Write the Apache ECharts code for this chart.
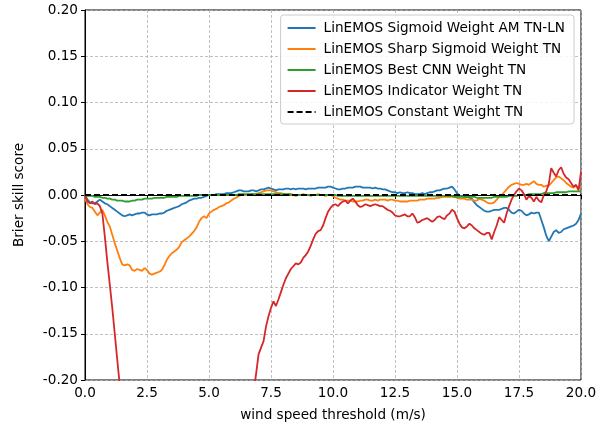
<!DOCTYPE html>
<html>
<head>
<meta charset="utf-8">
<script src="https://cdn.jsdelivr.net/npm/echarts@6/dist/echarts.min.js"></script>
<style>
html,body{margin:0;padding:0;background:#fff;}
#chart{width:605px;height:427px;}
</style>
</head>
<body>
<div id="chart"></div>
<script>
// wind speed thresholds (m/s), 0.0 .. 20.0 step 0.1
const thresholds = Array.from({length: 201}, (_, i) => +(i * 0.1).toFixed(1));

const seriesNames = [
  "LinEMOS Sigmoid Weight AM TN-LN",
  "LinEMOS Sharp Sigmoid Weight TN",
  "LinEMOS Best CNN Weight TN",
  "LinEMOS Indicator Weight TN",
  "LinEMOS Constant Weight TN"
];

const sigmoidAM = [
  0.000,-0.005,-0.008,-0.009,-0.009,-0.007,-0.005,-0.007,-0.009,-0.010,
  -0.012,-0.014,-0.016,-0.018,-0.020,-0.022,-0.023,-0.022,-0.021,-0.022,
  -0.021,-0.020,-0.020,-0.019,-0.019,-0.021,-0.022,-0.021,-0.021,-0.021,
  -0.020,-0.020,-0.019,-0.017,-0.016,-0.015,-0.014,-0.013,-0.012,-0.010,
  -0.009,-0.008,-0.006,-0.005,-0.004,-0.004,-0.003,-0.003,-0.002,-0.001,
  0.000,0.000,0.000,0.001,0.001,0.001,0.001,0.002,0.002,0.002,
  0.003,0.004,0.005,0.005,0.004,0.004,0.004,0.005,0.005,0.004,
  0.005,0.006,0.006,0.007,0.008,0.007,0.006,0.005,0.006,0.006,
  0.006,0.007,0.007,0.006,0.007,0.006,0.007,0.007,0.007,0.006,
  0.007,0.007,0.007,0.007,0.008,0.008,0.008,0.008,0.009,0.009,
  0.008,0.007,0.006,0.006,0.007,0.007,0.008,0.008,0.008,0.009,
  0.009,0.009,0.008,0.008,0.008,0.008,0.007,0.008,0.007,0.007,
  0.006,0.006,0.005,0.004,0.003,0.003,0.002,0.003,0.002,0.002,
  0.003,0.002,0.002,0.001,0.001,0.001,0.002,0.001,0.002,0.003,
  0.003,0.004,0.005,0.005,0.006,0.007,0.007,0.008,0.009,0.006,
  0.002,-0.001,-0.001,-0.002,-0.002,-0.003,-0.004,-0.008,-0.011,-0.013,
  -0.015,-0.017,-0.018,-0.018,-0.017,-0.016,-0.016,-0.016,-0.015,-0.014,
  -0.014,-0.016,-0.019,-0.020,-0.018,-0.016,-0.017,-0.020,-0.022,-0.021,
  -0.019,-0.020,-0.019,-0.019,-0.027,-0.035,-0.044,-0.050,-0.045,-0.040,
  -0.038,-0.041,-0.040,-0.037,-0.036,-0.035,-0.034,-0.033,-0.031,-0.027,
  -0.020
];

const sharpSigmoid = [
  -0.004,-0.010,-0.013,-0.014,-0.018,-0.022,-0.019,-0.016,-0.022,-0.029,
  -0.034,-0.043,-0.052,-0.060,-0.068,-0.075,-0.076,-0.075,-0.076,-0.081,
  -0.082,-0.080,-0.081,-0.082,-0.079,-0.081,-0.085,-0.086,-0.085,-0.084,
  -0.083,-0.081,-0.076,-0.070,-0.066,-0.063,-0.061,-0.059,-0.056,-0.051,
  -0.049,-0.047,-0.045,-0.042,-0.039,-0.035,-0.029,-0.025,-0.023,-0.025,
  -0.020,-0.018,-0.016,-0.015,-0.013,-0.012,-0.011,-0.009,-0.008,-0.006,
  -0.004,-0.003,-0.001,0.000,0.000,0.000,0.000,0.001,0.001,0.001,
  0.002,0.003,0.004,0.005,0.005,0.005,0.004,0.003,0.002,0.002,
  0.001,0.000,0.001,0.000,0.000,-0.001,0.000,0.000,0.001,0.000,
  0.000,-0.001,0.000,0.000,0.001,0.000,0.000,-0.001,0.000,0.000,
  -0.001,-0.003,-0.004,-0.005,-0.005,-0.006,-0.006,-0.006,-0.007,-0.007,
  -0.007,-0.006,-0.006,-0.005,-0.005,-0.006,-0.006,-0.005,-0.006,-0.005,
  -0.005,-0.005,-0.006,-0.005,-0.005,-0.006,-0.006,-0.007,-0.007,-0.007,
  -0.007,-0.006,-0.006,-0.006,-0.006,-0.005,-0.005,-0.005,-0.004,-0.004,
  -0.004,-0.004,-0.003,-0.003,-0.002,-0.002,-0.002,-0.002,-0.002,-0.002,
  -0.003,-0.004,-0.004,-0.004,-0.005,-0.005,-0.005,-0.006,-0.006,-0.004,
  -0.005,-0.006,-0.008,-0.009,-0.009,-0.008,-0.005,-0.002,0.000,0.003,
  0.006,0.009,0.011,0.012,0.013,0.012,0.011,0.011,0.012,0.011,
  0.013,0.015,0.012,0.011,0.011,0.009,0.010,0.010,0.013,0.016,
  0.019,0.020,0.018,0.016,0.013,0.011,0.009,0.008,0.010,0.008,
  0.007
];

const bestCNN = [
  0.000,-0.001,-0.001,-0.001,-0.002,-0.002,-0.002,-0.003,-0.003,-0.004,
  -0.004,-0.005,-0.005,-0.006,-0.006,-0.006,-0.007,-0.007,-0.007,-0.006,
  -0.006,-0.005,-0.005,-0.005,-0.004,-0.004,-0.004,-0.004,-0.003,-0.003,
  -0.003,-0.003,-0.003,-0.002,-0.002,-0.002,-0.002,-0.002,-0.001,-0.001,
  -0.001,-0.001,-0.001,-0.001,-0.001,-0.001,0.000,0.000,0.000,0.000,
  0.000,0.000,0.000,0.000,0.000,0.000,0.000,0.000,0.000,0.000,
  0.000,0.000,0.001,0.001,0.001,0.001,0.001,0.001,0.001,0.001,
  0.001,0.001,0.001,0.001,0.001,0.001,0.001,0.001,0.001,0.001,
  0.001,0.001,0.001,0.001,0.000,0.000,0.000,0.000,0.000,0.000,
  0.000,0.000,0.000,0.000,0.000,0.000,0.000,0.000,0.000,0.000,
  0.000,0.000,-0.001,-0.001,-0.001,-0.001,-0.001,-0.001,-0.001,-0.001,
  -0.001,-0.001,-0.001,-0.001,-0.001,-0.001,-0.001,-0.001,-0.001,-0.001,
  -0.001,-0.001,-0.001,-0.001,-0.001,-0.001,-0.001,-0.001,-0.001,-0.001,
  -0.001,-0.001,-0.001,-0.001,-0.001,-0.001,-0.001,-0.001,-0.001,-0.001,
  -0.001,-0.001,-0.001,-0.001,-0.001,-0.001,-0.001,-0.001,-0.001,-0.002,
  -0.002,-0.002,-0.002,-0.002,-0.002,-0.002,-0.002,-0.002,-0.003,-0.003,
  -0.003,-0.003,-0.003,-0.003,-0.003,-0.002,-0.002,-0.002,-0.002,-0.002,
  -0.002,-0.001,-0.001,-0.001,-0.001,0.000,0.000,0.000,0.000,0.001,
  0.001,0.001,0.001,0.001,0.001,0.002,0.002,0.002,0.002,0.002,
  0.003,0.003,0.003,0.003,0.003,0.004,0.004,0.004,0.004,0.004,
  0.004
];

// values between ~1.4 and ~6.9 lie below the visible range (-0.2)
const indicator = [
  0.000,-0.007,-0.009,-0.007,-0.010,-0.009,-0.012,-0.020,-0.045,-0.072,
  -0.097,-0.122,-0.150,-0.178,-0.205,-0.232,-0.260,-0.290,-0.320,-0.350,
  -0.380,-0.400,-0.420,-0.440,-0.450,-0.460,-0.470,-0.480,-0.480,-0.490,
  -0.490,-0.500,-0.500,-0.500,-0.500,-0.500,-0.500,-0.500,-0.500,-0.500,
  -0.500,-0.500,-0.500,-0.500,-0.500,-0.500,-0.500,-0.500,-0.500,-0.500,
  -0.500,-0.490,-0.490,-0.480,-0.470,-0.460,-0.450,-0.440,-0.430,-0.420,
  -0.410,-0.390,-0.370,-0.350,-0.320,-0.290,-0.260,-0.236,-0.214,-0.193,
  -0.172,-0.165,-0.158,-0.142,-0.131,-0.122,-0.115,-0.120,-0.113,-0.105,
  -0.097,-0.090,-0.085,-0.080,-0.077,-0.074,-0.075,-0.073,-0.068,-0.065,
  -0.061,-0.055,-0.048,-0.042,-0.039,-0.038,-0.033,-0.025,-0.018,-0.014,
  -0.011,-0.010,-0.012,-0.009,-0.007,-0.006,-0.009,-0.006,-0.004,-0.007,
  -0.011,-0.013,-0.012,-0.010,-0.011,-0.012,-0.011,-0.010,-0.011,-0.012,
  -0.012,-0.014,-0.016,-0.017,-0.019,-0.022,-0.023,-0.023,-0.022,-0.021,
  -0.023,-0.023,-0.020,-0.024,-0.030,-0.029,-0.027,-0.026,-0.025,-0.027,
  -0.029,-0.027,-0.024,-0.023,-0.025,-0.026,-0.022,-0.020,-0.016,-0.018,
  -0.025,-0.031,-0.035,-0.036,-0.034,-0.031,-0.033,-0.036,-0.038,-0.040,
  -0.042,-0.043,-0.041,-0.041,-0.048,-0.040,-0.033,-0.024,-0.027,-0.030,
  -0.020,-0.012,-0.005,0.000,0.004,0.007,0.005,0.001,-0.005,-0.001,
  -0.003,-0.007,-0.002,-0.006,-0.008,0.000,0.004,0.012,0.029,0.024,
  0.020,0.027,0.030,0.023,0.019,0.017,0.013,0.009,0.011,0.005,
  0.025
];

const constantX = [0, 20];
const constantWeight = [0, 0];

const colors = ["#1f77b4", "#ff7f0e", "#2ca02c", "#d62728", "#000000"];
const FONT = "DejaVu Sans";
const FS = 13.6;

function pairs(xs, ys) { return xs.map((x, i) => [x, ys[i]]); }

const chart = echarts.init(document.getElementById('chart'), null, {renderer: 'canvas'});

const valueSets = [sigmoidAM, sharpSigmoid, bestCNN, indicator];
const series = valueSets.map((vals, k) => ({
  name: seriesNames[k],
  type: 'line',
  data: pairs(thresholds, vals),
  showSymbol: false,
  symbol: 'none',
  clip: true,
  animation: false,
  lineStyle: {color: colors[k], width: 1.8},
  itemStyle: {color: colors[k]}
}));
series.push({
  name: seriesNames[4],
  type: 'line',
  data: pairs(constantX, constantWeight),
  showSymbol: false,
  symbol: 'none',
  animation: false,
  lineStyle: {color: '#000', width: 1.8, type: [6, 3]},
  itemStyle: {color: '#000'}
});

chart.setOption({
  animation: false,
  backgroundColor: '#fff',
  textStyle: {fontFamily: FONT},
  grid: {left: 85, right: 24, top: 10, bottom: 47, show: true, borderColor: '#000', borderWidth: 1, containLabel: false},
  legend: {
    orient: 'vertical',
    right: 31,
    top: 15,
    padding: [6, 9, 5, 6],
    itemWidth: 28,
    itemHeight: 14,
    itemGap: 7,
    itemStyle: {opacity: 0},
    backgroundColor: 'rgba(255,255,255,0.85)',
    borderColor: '#cccccc',
    borderWidth: 1,
    borderRadius: 3,
    textStyle: {fontFamily: FONT, fontSize: FS, color: '#000', padding: [0, 0, 0, 3]},
    data: seriesNames.map(n => ({name: n}))
  },
  xAxis: {
    type: 'value',
    min: 0, max: 20, interval: 2.5,
    name: 'wind speed threshold (m/s)',
    nameLocation: 'middle',
    nameGap: 28,
    nameTextStyle: {fontFamily: FONT, fontSize: FS, color: '#000'},
    axisLine: {show: true, lineStyle: {color: '#000', width: 1}},
    axisTick: {show: true, inside: false, length: 4, lineStyle: {color: '#000'}},
    axisLabel: {fontFamily: FONT, fontSize: FS, color: '#000', margin: 6, formatter: v => v.toFixed(1)},
    splitLine: {show: true, lineStyle: {color: '#b0b0b0', width: 0.8, type: [3, 2]}}
  },
  yAxis: {
    type: 'value',
    min: -0.2, max: 0.2, interval: 0.05,
    name: 'Brier skill score',
    nameLocation: 'middle',
    nameGap: 59,
    nameTextStyle: {fontFamily: FONT, fontSize: FS, color: '#000'},
    axisLine: {show: true, onZero: false, lineStyle: {color: '#000', width: 1}},
    axisTick: {show: true, inside: false, length: 4, lineStyle: {color: '#000'}},
    axisLabel: {fontFamily: FONT, fontSize: FS, color: '#000', margin: 7, formatter: v => v.toFixed(2)},
    splitLine: {show: true, lineStyle: {color: '#b0b0b0', width: 0.8, type: [3, 2]}}
  },
  series: series
});
</script>
</body>
</html>
